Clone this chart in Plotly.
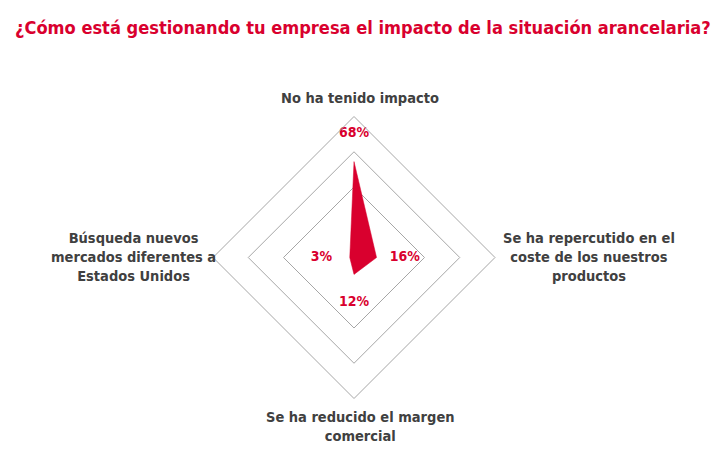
import plotly.graph_objects as go

# Survey answers (clockwise from the top) and share of companies
categories = [
    "No ha tenido impacto",
    "Se ha repercutido en el<br>coste de los nuestros<br>productos",
    "Se ha reducido el margen<br>comercial",
    "Búsqueda nuevos<br>mercados diferentes a<br>Estados Unidos",
]
values = [0.68, 0.16, 0.12, 0.03]
value_labels = ["68%", "16%", "12%", "3%"]

RED = "#d9002e"
GREY_TEXT = "#404040"
GRID = "#a6a6a6"
FONT = "DejaVu Sans Condensed, DejaVu Sans, sans-serif"
label_offset = 0.2

W, H = 727, 459
# polar centre and radius in pixels
cx, cy, R = 346, 249.5, 141

fig = go.Figure()

fig.add_trace(go.Scatterpolar(
    r=values + values[:1],
    theta=categories + categories[:1],
    fill="toself",
    fillcolor=RED,
    mode="lines",
    line=dict(color=RED, width=0.5),
    hoverinfo="skip",
))

fig.add_trace(go.Scatterpolar(
    r=[v + label_offset for v in values],
    theta=categories,
    mode="text",
    text=value_labels,
    textfont=dict(color=RED, size=14, family=FONT, weight="bold"),
    hoverinfo="skip",
    cliponaxis=False,
))

# category labels, centred like the original
label_pos = [(352, 90), (581, 248.5), (352.5, 418.5), (125, 248.5)]
for text, (px, py) in zip(categories, label_pos):
    fig.add_annotation(
        text=text, x=px / W, y=1 - py / H, xref="paper", yref="paper",
        xanchor="center", yanchor="middle", align="center", showarrow=False,
        font=dict(family=FONT, size=14.5, color=GREY_TEXT, weight="bold"),
    )

fig.update_layout(
    width=W,
    height=H,
    margin=dict(l=0, r=0, t=0, b=0),
    paper_bgcolor="white",
    plot_bgcolor="white",
    showlegend=False,
    font=dict(family=FONT, color=GREY_TEXT, size=14, weight="bold"),
    title=dict(
        text="¿Cómo está gestionando tu empresa el impacto de la situación arancelaria?",
        font=dict(family=FONT, size=18.1, color=RED, weight="bold"),
        x=7 / W,
        xanchor="left",
        xref="paper",
        y=1 - 20 / H,
        yanchor="middle",
        yref="paper",
    ),
    polar=dict(
        domain=dict(x=[(cx - R) / W, (cx + R) / W],
                    y=[1 - (cy + R) / H, 1 - (cy - R) / H]),
        gridshape="linear",
        bgcolor="white",
        radialaxis=dict(
            range=[0, 1],
            tickvals=[0.5, 0.75, 1.0],
            showticklabels=False,
            ticks="",
            showline=False,
            gridcolor=GRID,
            gridwidth=1,
        ),
        angularaxis=dict(
            direction="clockwise",
            rotation=90,
            showgrid=False,
            showticklabels=False,
            ticks="",
            linecolor=GRID,
            linewidth=1,
        ),
    ),
)

fig.write_html("out.html")
